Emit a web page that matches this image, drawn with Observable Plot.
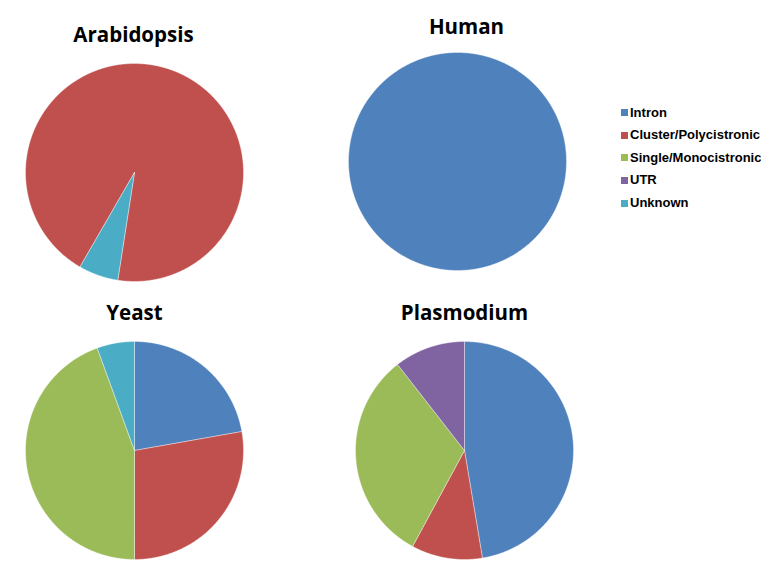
<!DOCTYPE html>
<html>
<head>
<meta charset="utf-8">
<script src="https://cdn.jsdelivr.net/npm/d3@7"></script>
<script src="https://cdn.jsdelivr.net/npm/@observablehq/plot@0.6"></script>
<style>
  html, body { margin: 0; padding: 0; background: #fff; }
  #chart { position: relative; width: 772px; height: 574px; overflow: hidden; background: #fff; }
  .pie { position: absolute; }
  #legend { position: absolute; left: 621px; top: 101.5px; }
  #legend .lg-swatches { margin: 0 !important; min-height: 0 !important; columns: auto !important; }
  #legend .lg-swatch { display: flex !important; align-items: center; height: 22.6px; line-height: 22.6px; padding: 0 !important; margin: 0 !important;
    font-family: "Liberation Sans", Arial, sans-serif; font-weight: bold; font-size: 13px; color: #000; white-space: nowrap; }
  #legend .lg-swatch svg { margin-right: 2px !important; }
</style>
</head>
<body>
<div id="chart"></div>
<script>
// ---- data ----
const categories = ["Intron", "Cluster/Polycistronic", "Single/Monocistronic", "UTR", "Unknown"];
const colors = ["#4F81BD", "#C0504D", "#9BBB59", "#8064A2", "#4BACC6"];
const species = ["Arabidopsis", "Human", "Yeast", "Plasmodium"];
const arabidopsis = [0, 16, 0, 0, 1];
const human = [1, 0, 0, 0, 0];
const yeast = [4, 5, 8, 0, 1];
const plasmodium = [9, 2, 6, 2, 0];
const seriesValues = [arabidopsis, human, yeast, plasmodium];

// ---- layout (not data) ----
const layout = {
  Arabidopsis: {cx: 134, cy: 172, startDeg: 210, titleDx: -1, titleDy: -22},
  Human:       {cx: 457, cy: 161, startDeg: 0,   titleDx: 9,  titleDy: -19},
  Yeast:       {cx: 134, cy: 450, startDeg: 0,   titleDx: 0,  titleDy: -22},
  Plasmodium:  {cx: 464, cy: 450, startDeg: 0,   titleDx: 0,  titleDy: -22}
};
const R = 109, MT = 40, MB = 2, ML = 11, MR = 11;

const chart = document.getElementById("chart");

function slicePoints(values, startDeg) {
  const a0 = startDeg * Math.PI / 180;
  const arcs = d3.pie().sort(null).startAngle(a0).endAngle(a0 + 2 * Math.PI)(values);
  const pts = [];
  arcs.forEach((a, i) => {
    if (a.value <= 0) return;
    const key = categories[i];
    const full = a.endAngle - a.startAngle >= 2 * Math.PI - 1e-9;
    const n = Math.max(2, Math.ceil((a.endAngle - a.startAngle) / (Math.PI / 360)));
    if (!full) pts.push({key, cat: key, x: 0, y: 0});
    for (let k = 0; k <= n; k++) {
      const t = a.startAngle + (a.endAngle - a.startAngle) * k / n;
      pts.push({key, cat: key, x: Math.sin(t), y: Math.cos(t)});
    }
    if (!full) pts.push({key, cat: key, x: 0, y: 0});
  });
  return pts;
}

species.forEach((name, si) => {
  const L = layout[name];
  const pts = slicePoints(seriesValues[si], L.startDeg);
  const plot = Plot.plot({
    width: 2 * R + ML + MR,
    height: 2 * R + MT + MB,
    marginTop: MT, marginBottom: MB, marginLeft: ML, marginRight: MR,
    x: {domain: [-1, 1], axis: null},
    y: {domain: [-1, 1], axis: null},
    color: {domain: categories, range: colors},
    style: {background: "transparent", overflow: "visible"},
    marks: [
      Plot.line(pts, {x: "x", y: "y", z: "key", fill: "cat", stroke: "white", strokeWidth: 0.7, strokeOpacity: 0.55, curve: "linear"}),
      Plot.text([name], {frameAnchor: "top", lineAnchor: "bottom", dx: L.titleDx, dy: L.titleDy, text: d => d,
        fontSize: 20.5, fontWeight: "bold", fontFamily: "Open Sans", fill: "#000"})
    ]
  });
  const wrap = document.createElement("div");
  wrap.className = "pie";
  wrap.style.left = (L.cx - R - ML) + "px";
  wrap.style.top = (L.cy - R - MT) + "px";
  wrap.appendChild(plot);
  chart.appendChild(wrap);
});

const legend = Plot.legend({
  color: {type: "ordinal", domain: categories, range: colors},
  legend: "swatches",
  columns: 1,
  swatchSize: 7,
  className: "lg"
});
const lw = document.createElement("div");
lw.id = "legend";
lw.appendChild(legend);
chart.appendChild(lw);
</script>
</body>
</html>
